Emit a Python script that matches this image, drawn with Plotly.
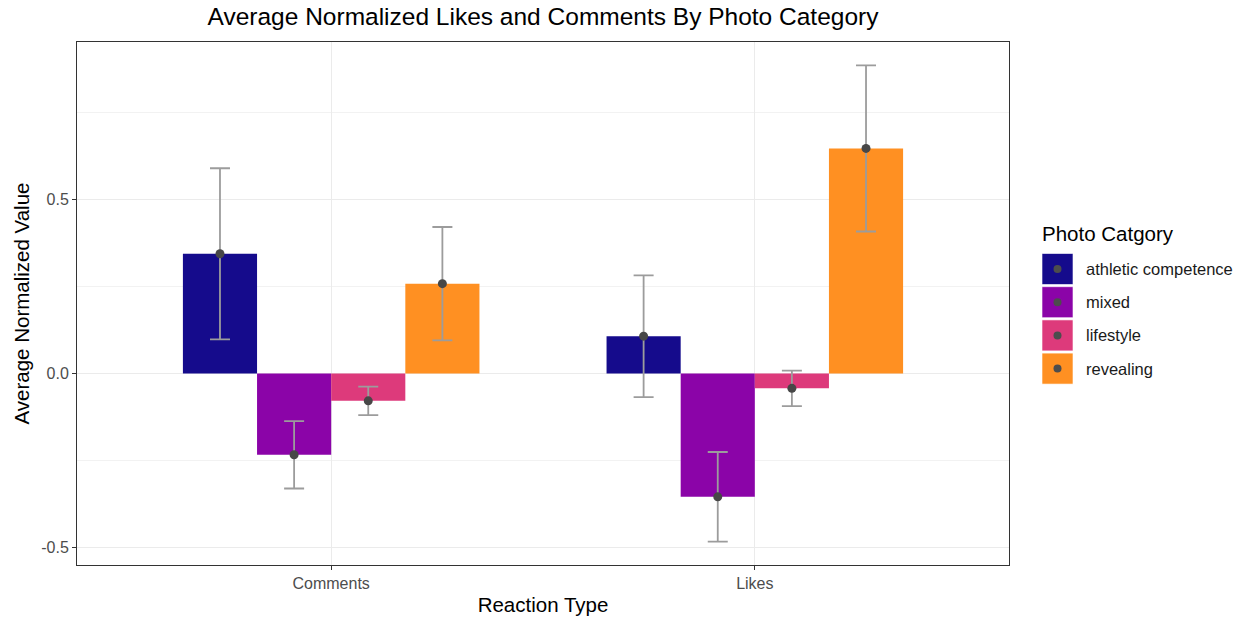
import plotly.graph_objects as go

# Reaction types on the x axis and photo categories used for dodged bars
reaction_types = ["Comments", "Likes"]
categories = ["athletic competence", "mixed", "lifestyle", "revealing"]

# Mean normalized value per category, ordered as reaction_types
mean_athletic = [0.344, 0.107]
mean_mixed = [-0.234, -0.355]
mean_lifestyle = [-0.079, -0.043]
mean_revealing = [0.258, 0.647]

# Half-width of the error interval per category
err_athletic = [0.246, 0.175]
err_mixed = [0.097, 0.129]
err_lifestyle = [0.041, 0.051]
err_revealing = [0.163, 0.239]

y_ticks = [-0.5, 0.0, 0.5]
y_tick_labels = ["-0.5", "0.0", "0.5"]

means = [mean_athletic, mean_mixed, mean_lifestyle, mean_revealing]
errs = [err_athletic, err_mixed, err_lifestyle, err_revealing]
colors = ["#150B8C", "#8B04A8", "#DD3A7B", "#FF9022"]

FONT = "Liberation Sans, Arial, sans-serif"
W, H = 1246, 621
L, R, T, B = 77, 237, 42, 56
PW, PH = W - L - R, H - T - B

fig = go.Figure()

for name, m, c in zip(categories, means, colors):
    fig.add_trace(go.Bar(
        x=reaction_types, y=m, name=name, marker=dict(color=c, line=dict(width=0)),
        offsetgroup=name, showlegend=False, hoverinfo="skip",
    ))

for name, m, e in zip(categories, means, errs):
    fig.add_trace(go.Scatter(
        x=reaction_types, y=m, mode="markers", name=name, offsetgroup=name,
        marker=dict(color="#474747", size=9),
        error_y=dict(type="data", array=e, visible=True, color="#9C9C9C", thickness=1.8, width=10),
        showlegend=False,
    ))


def px_x(px):
    return (px - L) / PW


def px_y(py):
    return (H - B - py) / PH


# Custom legend: coloured keys with a centred point, built from the category list
shapes = []
annotations = []
key_top = 253.5
key_step = 33.2
key_h = 31
for i, (name, c) in enumerate(zip(categories, colors)):
    y0 = key_top + i * key_step
    shapes.append(dict(type="rect", xref="paper", yref="paper",
                       x0=px_x(1042), x1=px_x(1073), y0=px_y(y0 + key_h), y1=px_y(y0),
                       fillcolor=c, line=dict(color="rgba(255,255,255,0.6)", width=1)))
    cy = y0 + key_h / 2
    shapes.append(dict(type="circle", xref="paper", yref="paper",
                       x0=px_x(1053.5), x1=px_x(1061.5), y0=px_y(cy + 4), y1=px_y(cy - 4),
                       fillcolor="#4D4D4D", line=dict(width=0)))
    annotations.append(dict(text=name, xref="paper", yref="paper", x=px_x(1084), y=px_y(cy),
                            xanchor="left", yanchor="middle", showarrow=False,
                            font=dict(family=FONT, size=16.5, color="#1a1a1a")))

annotations.append(dict(text="Photo Catgory", xref="paper", yref="paper", x=px_x(1040), y=px_y(233),
                        xanchor="left", yanchor="middle", showarrow=False,
                        font=dict(family=FONT, size=20.5, color="#000000")))

fig.update_layout(
    width=W, height=H,
    margin=dict(l=L, r=R, t=T, b=B, autoexpand=False),
    paper_bgcolor="white", plot_bgcolor="white",
    barmode="group", bargap=0.3, bargroupgap=0,
    scattermode="group", scattergap=0.3,
    font=dict(family=FONT),
    title=dict(text="Average Normalized Likes and Comments By Photo Category",
               x=(L + PW / 2) / W, xanchor="center", y=1 - 16.5 / H, yanchor="middle",
               font=dict(family=FONT, size=24.5, color="#000000")),
    shapes=shapes, annotations=annotations,
    showlegend=False,
)

fig.update_xaxes(
    type="category", range=[-0.6, 1.6], automargin=False,
    showgrid=True, gridcolor="#EBEBEB", gridwidth=1.2,
    showline=True, mirror=True, linecolor="#333333", linewidth=1,
    ticks="outside", ticklen=4, tickcolor="#333333", tickwidth=1,
    tickfont=dict(family=FONT, size=16, color="#4D4D4D"),
    title=dict(text="Reaction Type", font=dict(family=FONT, size=20.5, color="#000000"), standoff=6),
    zeroline=False,
)

fig.update_yaxes(
    range=[-0.551, 0.953], automargin=False,
    tickvals=y_ticks, ticktext=y_tick_labels,
    showgrid=True, gridcolor="#EBEBEB", gridwidth=1.2,
    minor=dict(tickvals=[-0.25, 0.25, 0.75], showgrid=True, gridcolor="#F2F2F2", gridwidth=0.8, ticks=""),
    showline=True, mirror=True, linecolor="#333333", linewidth=1,
    ticks="outside", ticklen=4, tickcolor="#333333", tickwidth=1,
    tickfont=dict(family=FONT, size=16, color="#4D4D4D"),
    title=dict(text="Average Normalized Value", font=dict(family=FONT, size=20.5, color="#000000"), standoff=6),
    zeroline=False,
)

fig.write_html("out.html")
